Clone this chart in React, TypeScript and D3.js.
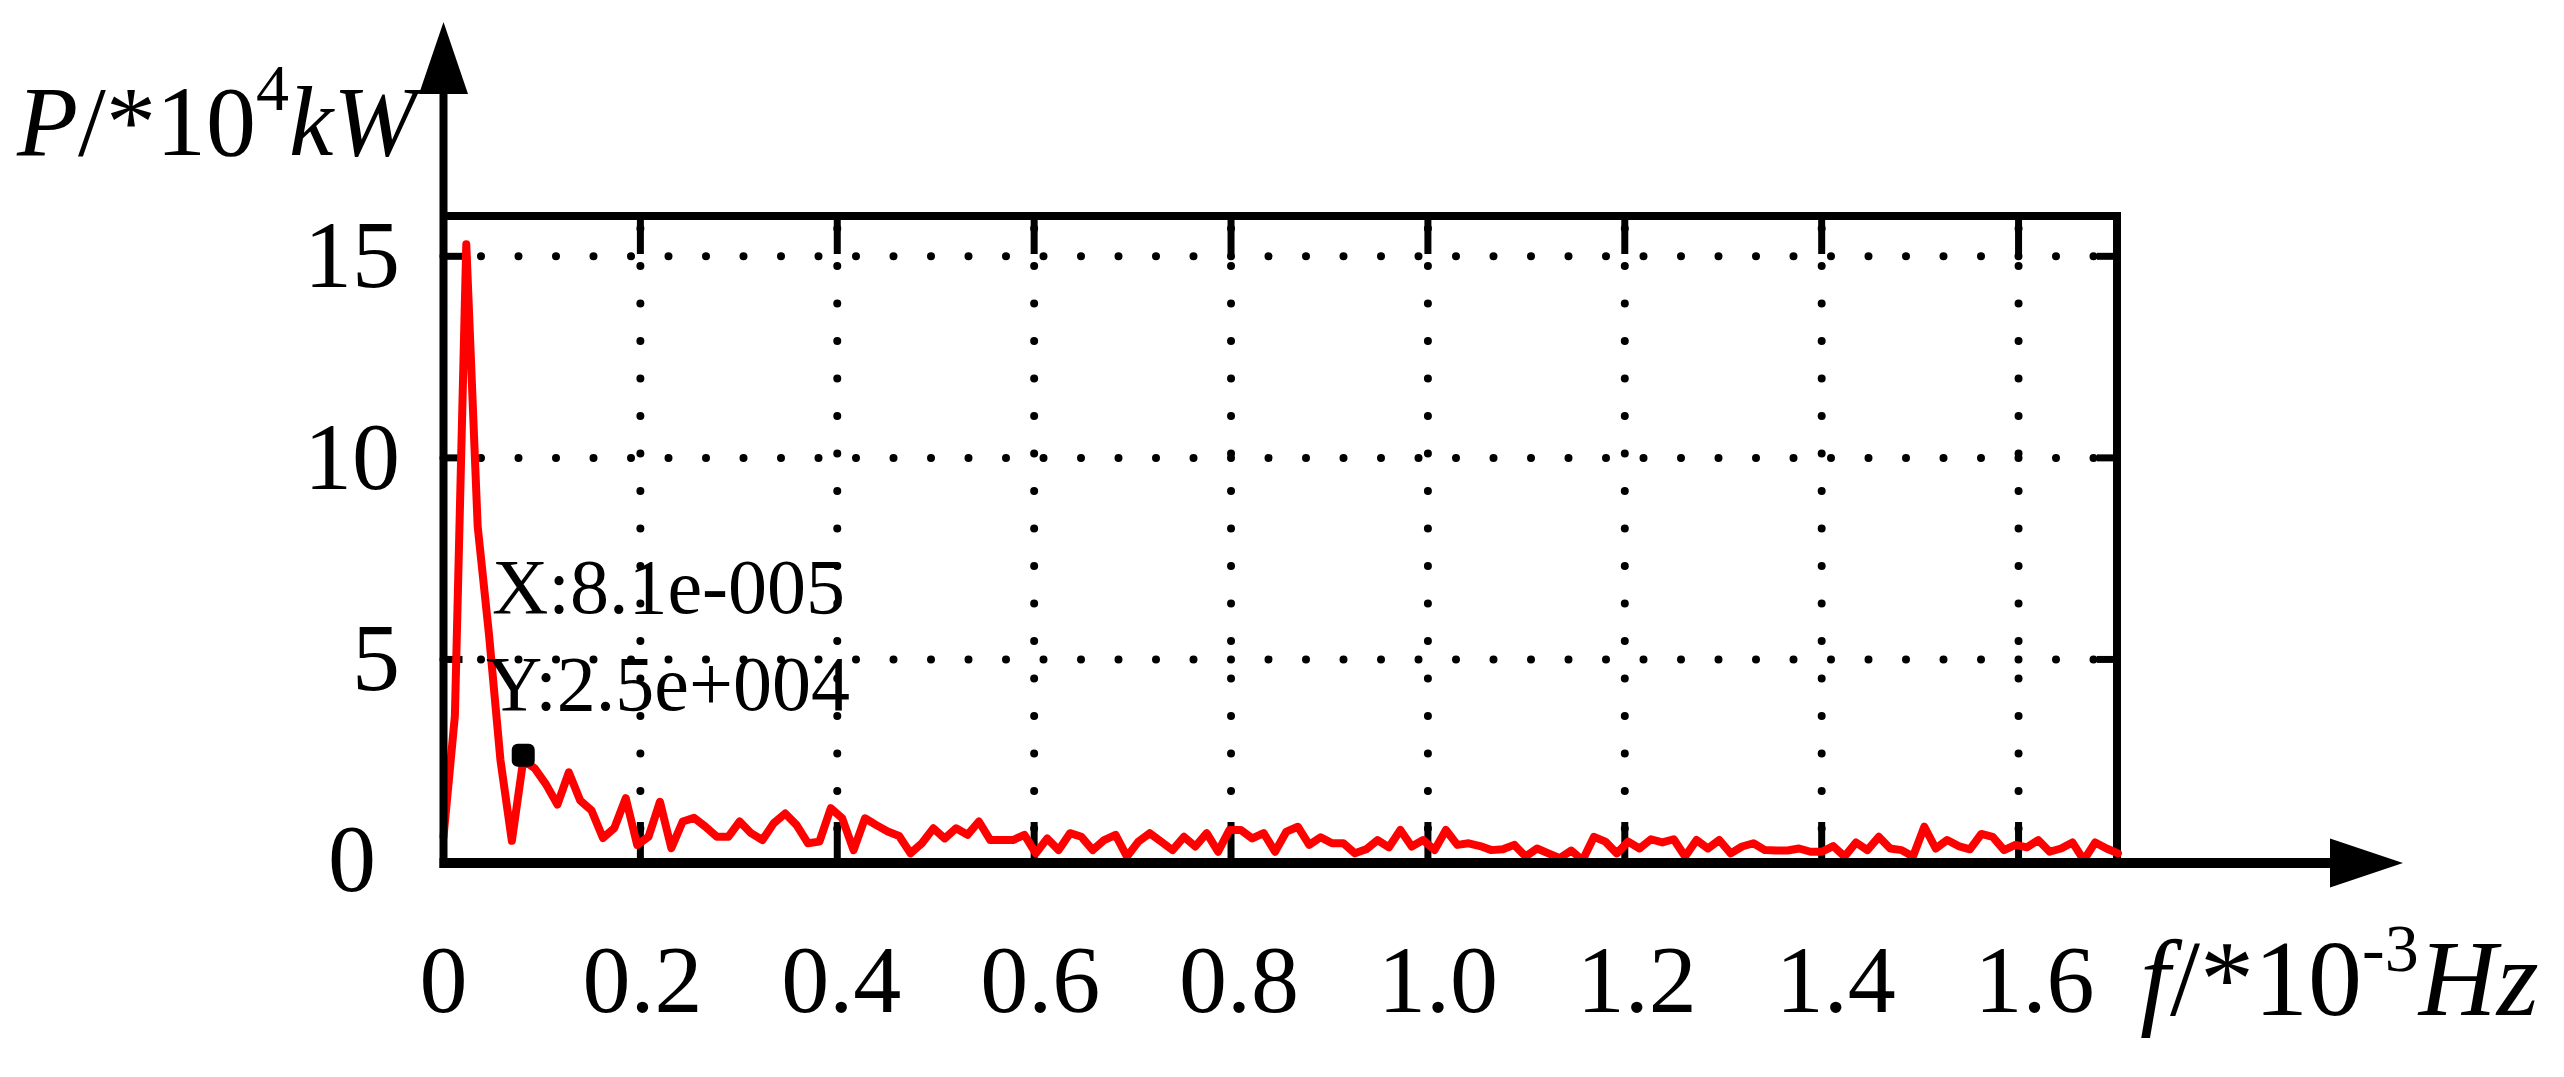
import React from "react";
import * as d3 from "d3";

// ---- data (P in 1e4 kW, f in 1e-3 Hz) ----
const binWidth = 0.081 / 7; // FFT bin spacing, 1e-3 Hz
const powerValues: number[] = [
  0.6, 3.6, 15.3, 8.3, 5.6, 2.5, 0.5, 2.5, 2.3, 1.9,
  1.4, 2.2, 1.5, 1.25, 0.57, 0.82, 1.56, 0.4, 0.6, 1.47,
  0.32, 0.98, 1.07, 0.85, 0.6, 0.6, 0.98, 0.69, 0.52, 0.94,
  1.18, 0.89, 0.44, 0.48, 1.31, 1.06, 0.27, 1.06, 0.89, 0.73,
  0.62, 0.19, 0.44, 0.81, 0.56, 0.81, 0.65, 0.98, 0.52, 0.52,
  0.52, 0.65, 0.19, 0.56, 0.27, 0.69, 0.6, 0.27, 0.52, 0.65,
  0.11, 0.48, 0.69, 0.48, 0.27, 0.6, 0.36, 0.69, 0.23, 0.77,
  0.77, 0.56, 0.69, 0.23, 0.73, 0.85, 0.4, 0.59, 0.44, 0.44,
  0.19, 0.29, 0.52, 0.34, 0.77, 0.36, 0.52, 0.27, 0.77, 0.4,
  0.44, 0.37, 0.27, 0.29, 0.4, 0.11, 0.31, 0.19, 0.07, 0.26,
  0.02, 0.6, 0.48, 0.19, 0.48, 0.31, 0.54, 0.46, 0.54, 0.11,
  0.52, 0.31, 0.52, 0.19, 0.36, 0.44, 0.27, 0.26, 0.26, 0.31,
  0.23, 0.23, 0.37, 0.11, 0.46, 0.27, 0.6, 0.31, 0.27, 0.11,
  0.85, 0.31, 0.52, 0.37, 0.29, 0.67, 0.6, 0.27, 0.4, 0.34,
  0.52, 0.23, 0.31, 0.46, 0.02, 0.46, 0.31, 0.19,
];
const xTicks: number[] = [0.2, 0.4, 0.6, 0.8, 1.0, 1.2, 1.4, 1.6];
const xTickLabels: string[] = ["0", "0.2", "0.4", "0.6", "0.8", "1.0", "1.2", "1.4", "1.6"];
const xLabelValues: number[] = [0, 0.2, 0.4, 0.6, 0.8, 1.0, 1.2, 1.4, 1.6];
const yTicks: number[] = [5, 10, 15];
const yTickLabels: string[] = ["5", "10", "15"];
const dataTip = { x: 0.081, y: 2.5, xText: "X:8.1e-005", yText: "Y:2.5e+004" };

const W = 2564;
const H = 1077;
const FONT = "'Liberation Serif', 'Times New Roman', serif";

export default function App() {
  const x = d3.scaleLinear().domain([0, 1.7]).range([443.5, 2117]);
  const xLab = d3.scaleLinear().domain([0, 1.7]).range([443.5, 2134]);
  const y = d3.scaleLinear().domain([0, 16]).range([861, 216]);

  const pts: [number, number][] = powerValues.map((v, i) => [i * binWidth, v]);
  const line = d3
    .line<[number, number]>()
    .x((d) => x(d[0]))
    .y((d) => y(d[1]));

  const x0 = x(0);
  const x1 = x(1.7);
  const yb = y(0);
  const yt = y(16);
  const axisY = yb + 2;

  return (
    <svg
      width={W}
      height={H}
      viewBox={`0 0 ${W} ${H}`}
      style={{ position: "absolute", left: 0, top: 0, background: "#fff" }}
      fontFamily={FONT}
    >
      <rect x={0} y={0} width={W} height={H} fill="#fff" />
      {/* dotted grid */}
      <g stroke="#000" strokeWidth={8} strokeLinecap="round" strokeDasharray="0 37.5">
        {xTicks.map((t) => (
          <line key={"gx" + t} x1={x(t)} x2={x(t)} y1={yt} y2={yb} strokeDashoffset={25} />
        ))}
        {yTicks.map((t) => (
          <line key={"gy" + t} x1={x0} x2={x1} y1={y(t)} y2={y(t)} />
        ))}
      </g>
      {/* ticks */}
      <g stroke="#000" strokeWidth={7}>
        {xTicks.map((t) => (
          <g key={"tx" + t}>
            <line x1={x(t)} x2={x(t)} y1={yb} y2={yb - 39} />
            <line x1={x(t)} x2={x(t)} y1={yt} y2={yt + 38} />
          </g>
        ))}
        {yTicks.map((t) => (
          <g key={"ty" + t}>
            <line x1={x0} x2={x0 + 19} y1={y(t)} y2={y(t)} />
            <line x1={x1} x2={x1 - 20} y1={y(t)} y2={y(t)} />
          </g>
        ))}
      </g>
      {/* frame top/right */}
      <g stroke="#000" strokeWidth={8} fill="none">
        <line x1={x0} x2={x1 + 4} y1={yt} y2={yt} />
        <line x1={x1} x2={x1} y1={yt} y2={axisY} />
      </g>
      {/* data line */}
      <path
        d={line(pts) || ""}
        fill="none"
        stroke="#ff0000"
        strokeWidth={8}
        strokeLinejoin="round"
        strokeLinecap="round"
      />
      {/* axes with arrows */}
      <line x1={x0} x2={x0} y1={axisY + 5} y2={94} stroke="#000" strokeWidth={8} />
      <polygon points={`${x0},22 ${x0 - 24.5},94 ${x0 + 24.5},94`} fill="#000" />
      <line x1={x0 - 4} x2={2330} y1={axisY} y2={axisY} stroke="#000" strokeWidth={10} />
      <polygon points={`2403,${axisY} 2330,${axisY - 24.5} 2330,${axisY + 24.5}`} fill="#000" />
      {/* data tip */}
      <rect
        x={x(dataTip.x) - 11.5}
        y={y(dataTip.y) - 5 - 11.5}
        width={23}
        height={23}
        rx={6}
        fill="#000"
      />
      <text x={492} y={613} fontSize={78} fill="#000">
        {dataTip.xText}
      </text>
      <text x={486} y={710} fontSize={78} fill="#000">
        {dataTip.yText}
      </text>
      {/* y tick labels */}
      <g fontSize={96} fill="#000">
        {yTicks.map((t, i) => (
          <text key={"ly" + t} x={400} y={y(t) + 31} textAnchor="end">
            {yTickLabels[i]}
          </text>
        ))}
        <text x={352} y={yb + 30} textAnchor="middle">
          0
        </text>
        {xLabelValues.map((t, i) => (
          <text key={"lx" + t} x={xLab(t)} y={1012} textAnchor="middle">
            {xTickLabels[i]}
          </text>
        ))}
      </g>
      {/* axis titles */}
      <text x={17} y={155} fontSize={100} fill="#000">
        <tspan fontStyle="italic">P</tspan>
        <tspan>/*10</tspan>
        <tspan fontSize={66} dy={-45}>4</tspan>
        <tspan fontStyle="italic" dy={45}>kW</tspan>
      </text>
      <text x={2140} y={1015} fontSize={108} fill="#000">
        <tspan fontStyle="italic">f</tspan>
        <tspan>/*10</tspan>
        <tspan fontSize={68} dy={-44}>-3</tspan>
        <tspan fontStyle="italic" dy={44}>Hz</tspan>
      </text>
    </svg>
  );
}
